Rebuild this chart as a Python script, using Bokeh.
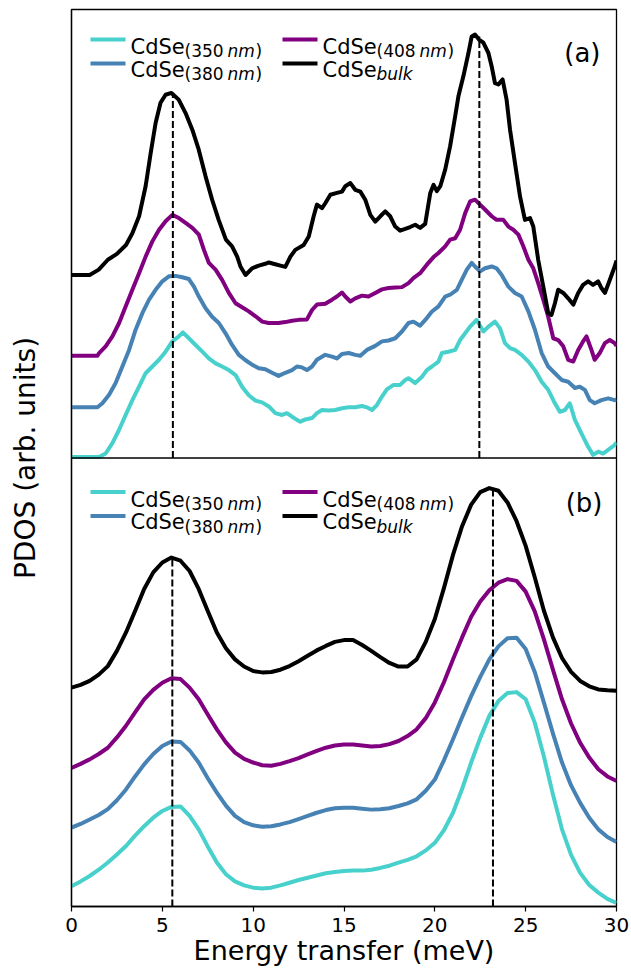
from bokeh.plotting import figure
from bokeh.models import ColumnDataSource, Span, FixedTicker, Range1d
from bokeh.embed import file_html
from bokeh.resources import INLINE
from bokeh.core.properties import value

# ---------------- data ----------------
colors = ["mediumturquoise", "steelblue", "purple", "black"]

# panel (a): measured PDOS (energy meV, intensity arb. units, as offset in the panel)
a_350 = [(0, 0.2), (1.52, 0.2), (1.88, 1.0), (2.25, 3.3), (2.62, 6.3), (2.98, 9.6), (3.35, 12.9),
         (3.72, 15.9), (4.08, 18.9), (4.45, 20.4), (4.82, 21.9), (5.18, 23.7), (5.55, 26.0),
         (5.91, 27.1), (6.13, 28.0), (6.46, 26.7), (6.83, 25.2), (7.2, 23.7), (7.56, 22.2),
         (7.93, 21.1), (8.29, 20.4), (8.66, 19.6), (9.03, 18.5), (9.39, 15.9), (9.76, 14.0),
         (10.13, 12.8), (10.49, 12.4), (10.86, 11.5), (11.22, 10.0), (11.59, 9.6), (11.86, 10.0),
         (12.14, 9.2), (12.41, 8.5), (12.6, 8.1), (12.87, 8.6), (13.24, 8.9), (13.51, 10.0),
         (13.79, 10.7), (14.15, 10.6), (14.52, 10.7), (14.89, 11.1), (15.26, 11.3), (15.62, 11.3),
         (15.99, 11.6), (16.26, 11.3), (16.54, 10.7), (16.81, 11.8), (17.09, 13.7), (17.36, 15.3),
         (17.73, 16.3), (18.09, 16.3), (18.37, 17.4), (18.55, 17.8), (18.92, 16.7), (19.29, 18.1),
         (19.56, 19.6), (19.84, 20.4), (20.2, 21.5), (20.39, 23.4), (20.75, 23.7), (21.12, 24.1),
         (21.39, 26.3), (21.67, 27.8), (21.94, 29.3), (22.3, 30.8), (22.67, 28.2), (22.95, 29.3),
         (23.31, 30.4), (23.59, 28.9), (23.86, 25.6), (24.14, 24.5), (24.41, 24.1), (24.78, 23.0),
         (25.15, 21.5), (25.51, 19.6), (25.88, 17.0), (26.24, 15.2), (26.61, 12.2), (26.88, 10.3),
         (27.16, 10.7), (27.43, 12.2), (27.71, 8.5), (28.07, 5.5), (28.44, 2.5), (28.71, 0.7),
         (28.99, 1.4), (29.26, 1.0), (29.54, 1.8), (29.9, 2.9), (30, 3.5)]

a_380 = [(0, 11.3), (1.43, 11.3), (1.7, 12.2), (2.07, 14.1), (2.43, 16.7), (2.8, 20.4), (3.17, 24.1),
         (3.53, 28.6), (3.9, 32.3), (4.27, 35.3), (4.63, 37.5), (5.0, 39.4), (5.36, 40.5),
         (5.73, 40.6), (6.1, 40.3), (6.46, 39.9), (6.74, 38.2), (7.01, 36.0), (7.38, 33.4),
         (7.74, 31.5), (8.11, 30.1), (8.48, 27.8), (8.84, 25.2), (9.21, 23.0), (9.58, 21.8),
         (9.94, 20.8), (10.31, 20.0), (10.67, 19.8), (11.04, 19.0), (11.4, 18.3), (11.77, 19.0),
         (12.14, 19.6), (12.41, 20.4), (12.69, 20.2), (12.96, 19.6), (13.24, 20.4), (13.51, 21.9),
         (13.97, 23.0), (14.34, 22.6), (14.61, 22.2), (14.89, 23.2), (15.26, 23.4), (15.62, 23.0),
         (15.9, 22.8), (16.26, 24.1), (16.72, 25.0), (17.09, 26.0), (17.45, 26.2), (17.82, 26.7),
         (18.19, 28.2), (18.55, 30.1), (18.82, 30.4), (19.19, 29.5), (19.56, 31.2), (19.83, 32.6),
         (20.2, 33.8), (20.57, 36.0), (20.84, 36.4), (21.21, 37.5), (21.48, 39.7), (21.76, 42.0),
         (22.03, 43.5), (22.21, 42.7), (22.49, 41.6), (22.76, 42.3), (23.13, 42.7), (23.4, 42.3),
         (23.68, 40.8), (24.05, 38.2), (24.41, 36.8), (24.78, 36.0), (25.15, 32.7), (25.51, 28.6),
         (25.88, 23.4), (26.24, 20.4), (26.61, 18.9), (26.98, 17.4), (27.34, 17.0), (27.71, 15.6),
         (27.98, 15.9), (28.26, 15.2), (28.53, 12.9), (28.8, 12.2), (29.17, 12.9), (29.54, 13.3),
         (29.9, 12.9), (30, 13.0)]

a_408 = [(0, 22.8), (1.43, 22.8), (1.52, 23.4), (1.88, 24.9), (2.25, 27.1), (2.62, 30.1), (2.98, 33.8),
         (3.35, 37.5), (3.72, 41.2), (4.08, 44.9), (4.45, 48.3), (4.82, 50.9), (5.18, 52.8),
         (5.55, 54.2), (5.91, 53.5), (6.28, 52.4), (6.65, 51.3), (7.01, 49.8), (7.29, 46.4),
         (7.56, 43.5), (7.93, 42.0), (8.29, 39.7), (8.66, 36.8), (9.03, 34.5), (9.39, 33.6),
         (9.76, 32.7), (10.13, 31.6), (10.5, 30.4), (10.85, 30.1), (11.4, 30.1), (11.77, 30.3),
         (12.14, 30.6), (12.51, 30.8), (12.96, 30.9), (13.24, 33.0), (13.51, 34.2), (13.97, 34.4),
         (14.34, 35.3), (14.61, 36.0), (14.89, 36.9), (15.07, 36.0), (15.35, 34.9), (15.62, 35.6),
         (15.99, 36.2), (16.35, 36.0), (16.72, 36.8), (17.09, 37.6), (17.45, 37.9), (17.82, 38.0),
         (18.19, 38.1), (18.55, 39.0), (18.82, 40.1), (19.19, 41.2), (19.56, 43.1), (19.93, 44.8),
         (20.2, 45.7), (20.57, 47.2), (20.84, 48.7), (21.12, 49.0), (21.39, 50.9), (21.67, 54.6),
         (21.94, 57.2), (22.21, 57.6), (22.49, 56.5), (22.76, 55.4), (23.13, 53.9), (23.4, 53.1),
         (23.77, 53.1), (24.05, 51.6), (24.32, 50.9), (24.6, 49.8), (24.87, 47.2), (25.15, 44.2),
         (25.42, 42.3), (25.69, 39.0), (25.97, 35.3), (26.24, 31.5), (26.52, 26.7), (26.79, 26.3),
         (27.07, 24.9), (27.34, 21.9), (27.62, 21.5), (27.89, 24.1), (28.16, 26.0), (28.35, 27.1),
         (28.62, 24.1), (28.8, 21.9), (29.08, 23.4), (29.36, 25.6), (29.63, 26.3), (29.9, 25.6),
         (30, 25.0)]

a_bulk = [(0, 40.8), (1.0, 40.8), (1.5, 42.0), (2.0, 44.2), (2.5, 45.5), (3.0, 47.5), (3.35, 50.1),
          (3.72, 53.9), (4.08, 60.6), (4.36, 68.0), (4.63, 74.7), (4.9, 79.2), (5.18, 81.0),
          (5.5, 81.4), (5.9, 79.9), (6.28, 76.9), (6.65, 73.2), (7.0, 68.8), (7.38, 62.8),
          (7.74, 57.6), (8.1, 53.1), (8.5, 48.7), (8.84, 47.2), (9.12, 44.9), (9.3, 42.7),
          (9.58, 40.8), (9.94, 42.3), (10.31, 42.9), (10.67, 43.3), (10.86, 43.6), (11.22, 43.2),
          (11.5, 42.9), (11.77, 42.6), (12.05, 44.9), (12.32, 46.4), (12.78, 47.5), (13.06, 49.4),
          (13.33, 53.9), (13.51, 56.5), (13.79, 55.7), (13.97, 56.8), (14.25, 58.7), (14.61, 59.1),
          (14.89, 59.4), (15.07, 60.6), (15.35, 61.3), (15.62, 59.8), (15.9, 59.4), (16.17, 57.6),
          (16.45, 54.2), (16.72, 52.7), (17.0, 53.9), (17.27, 55.0), (17.54, 53.9), (17.82, 51.6),
          (18.09, 50.7), (18.37, 51.1), (18.64, 51.5), (18.92, 52.0), (19.19, 51.3), (19.47, 52.2),
          (19.75, 59.1), (19.93, 60.9), (20.11, 59.5), (20.3, 60.6), (20.57, 64.3), (20.84, 69.5),
          (21.12, 76.2), (21.3, 80.7), (21.57, 85.1), (21.85, 90.3), (22.03, 94.0), (22.21, 94.4),
          (22.43, 93.3), (22.67, 92.6), (22.95, 90.3), (23.13, 87.3), (23.31, 83.6), (23.5, 83.3),
          (23.73, 84.4), (23.95, 79.9), (24.14, 73.2), (24.41, 65.8), (24.69, 58.3), (24.96, 53.1),
          (25.24, 53.5), (25.42, 51.6), (25.69, 44.2), (25.97, 38.2), (26.24, 32.3), (26.42, 31.9),
          (26.61, 34.5), (26.79, 37.5), (27.07, 36.8), (27.34, 35.6), (27.62, 34.2), (27.89, 36.8),
          (28.16, 38.6), (28.44, 39.4), (28.71, 38.6), (28.99, 39.4), (29.17, 37.9), (29.36, 36.8),
          (29.63, 39.7), (29.9, 42.7), (30, 44.0)]

# panel (b): calculated PDOS on a common 0.5 meV energy grid
x_b = [i * 0.5 for i in range(61)]
b_350 = [4.5, 5.6, 6.8, 8.2, 9.8, 11.6, 13.5, 15.8, 17.9, 19.8, 21.3, 22.2, 22.3, 20.2, 17.2, 13.4,
         9.8, 7.2, 5.6, 4.7, 4.2, 4.0, 4.2, 4.7, 5.3, 5.9, 6.4, 6.9, 7.4, 7.7, 7.9, 8.0, 8.0, 8.2,
         8.6, 9.1, 9.8, 10.4, 11.2, 12.5, 14.2, 17.0, 20.9, 26.2, 32.1, 37.6, 42.5, 45.8, 47.6,
         47.8, 46.2, 41.0, 33.5, 25.0, 17.2, 11.5, 7.5, 4.8, 3.1, 1.7, 0.8]
b_380 = [17.6, 18.4, 19.4, 20.4, 21.7, 23.7, 26.1, 29.0, 31.7, 34.0, 35.8, 36.8, 36.7, 34.8, 32.1,
         28.6, 25.4, 22.5, 20.2, 18.8, 18.1, 17.8, 17.9, 18.3, 18.8, 19.5, 20.2, 20.9, 21.5, 21.9,
         22.0, 22.0, 21.8, 21.6, 21.7, 21.9, 22.4, 23.0, 23.9, 25.8, 28.3, 32.6, 37.3, 42.2, 46.9,
         51.2, 55.1, 58.0, 59.8, 59.9, 57.4, 52.3, 45.5, 38.6, 32.1, 27.0, 23.1, 19.8, 17.2, 15.5,
         14.4]
b_408 = [30.9, 31.8, 32.8, 34.0, 35.4, 37.7, 40.3, 43.3, 46.2, 48.3, 49.9, 50.9, 50.7, 48.8, 46.2,
         42.8, 39.5, 36.6, 34.3, 32.9, 32.1, 31.5, 31.4, 31.8, 32.4, 33.1, 33.9, 34.7, 35.4, 35.9,
         36.1, 36.1, 35.9, 35.7, 35.8, 36.2, 36.9, 38.0, 39.5, 42.0, 45.5, 50.0, 55.1, 60.0, 64.6,
         68.0, 70.5, 72.2, 73.0, 72.6, 70.2, 65.8, 59.6, 52.8, 46.2, 40.8, 36.5, 33.2, 30.6, 29.0,
         28.0]
b_bulk = [48.8, 49.4, 50.3, 51.7, 53.6, 57.0, 61.1, 65.9, 70.8, 74.5, 76.7, 77.8, 77.1, 74.8, 70.8,
          65.9, 61.1, 57.6, 55.1, 53.5, 52.5, 52.2, 52.3, 52.8, 53.6, 54.7, 55.9, 57.1, 58.1, 59.0,
          59.4, 59.4, 58.3, 57.0, 55.6, 54.3, 53.5, 53.5, 55.1, 59.0, 64.1, 71.0, 78.4, 84.8, 89.6,
          92.4, 93.3, 92.7, 90.1, 85.9, 80.4, 73.4, 66.0, 60.0, 55.4, 52.3, 50.3, 49.1, 48.4, 48.2,
          48.1]

# peak markers (dashed lines): energy and height of the bulk peak
peaks_a_x = [5.58, 22.45]
peaks_a_top = [81.0, 94.0]
peaks_b_x = [5.55, 23.2]
peaks_b_top = [77.8, 93.4]

x_ticks = [0, 5, 10, 15, 20, 25, 30]
legend_subs = ["(350", "(380", "(408", "bulk"]

# ---------------- figure ----------------
FONT = value("DejaVu Sans")
W, H = 630, 972
ML, MR, MT, MB = 71, 14, 9, 66
FW, FH = W - ML - MR, H - MT - MB
PANEL_A_BASE = 100.0
p = figure(width=W, height=H, x_range=Range1d(0, 30), y_range=Range1d(0, 200),
           output_backend="svg", toolbar_location=None,
           min_border_left=ML, min_border_right=MR, min_border_top=MT, min_border_bottom=MB)
p.grid.visible = False
p.outline_line_color = "black"
p.outline_line_width = 1.3
p.outline_line_alpha = 1.0
p.background_fill_color = "white"
p.border_fill_color = "white"

# x axis
xa = p.xaxis[0]
xa.ticker = FixedTicker(ticks=x_ticks)
xa.axis_line_color = "black"
xa.axis_line_width = 1.3
xa.major_tick_line_color = "black"
xa.major_tick_line_width = 1.2
xa.major_tick_out = 5
xa.major_tick_in = 0
xa.minor_tick_out = 0
xa.minor_tick_in = 0
xa.major_label_standoff = 6
xa.major_label_text_font = "DejaVu Sans"
xa.major_label_text_font_size = "20px"
xa.major_label_text_color = "black"
xa.axis_label = "Energy transfer (meV)"
xa.axis_label_text_font = "DejaVu Sans"
xa.axis_label_text_font_size = "27px"
xa.axis_label_text_font_style = "normal"
xa.axis_label_text_color = "black"
xa.axis_label_standoff = 0

# y axis (no ticks)
ya = p.yaxis[0]
ya.ticker = FixedTicker(ticks=[])
ya.axis_line_color = "black"
ya.axis_line_width = 1.3
ya.major_tick_out = 0
ya.major_tick_in = 0
ya.minor_tick_out = 0
ya.minor_tick_in = 0
ya.major_label_text_font_size = "0px"
ya.axis_label = "PDOS (arb. units)"
ya.axis_label_text_font = "DejaVu Sans"
ya.axis_label_text_font_size = "28px"
ya.axis_label_text_font_style = "normal"
ya.axis_label_text_color = "black"
ya.axis_label_standoff = 30

# panel separator
p.add_layout(Span(location=PANEL_A_BASE, dimension="width", line_color="black", line_width=1.3))

LW = 4
# panel (a)
for series, col in zip([a_350, a_380, a_408, a_bulk], colors):
    xs = [e for e, v in series]
    ys = [v + PANEL_A_BASE for e, v in series]
    p.line(xs, ys, line_color=col, line_width=LW, line_join="round")
# panel (b)
for series, col in zip([b_350, b_380, b_408, b_bulk], colors):
    p.line(x_b, series, line_color=col, line_width=LW, line_join="round")

# dashed peak markers
p.segment(x0=peaks_a_x, y0=[PANEL_A_BASE] * len(peaks_a_x), x1=peaks_a_x,
          y1=[t + PANEL_A_BASE for t in peaks_a_top],
          line_color="black", line_width=2, line_dash="7 3")
p.segment(x0=peaks_b_x, y0=[0] * len(peaks_b_x), x1=peaks_b_x, y1=peaks_b_top,
          line_color="black", line_width=2, line_dash="7 3")


# ---------------- legends and panel labels (layout in px from panel top-left) ----------------
def lx(px):
    return px * 30.0 / FW


def ly(panel_top, px):
    return panel_top - px * 200.0 / FH


def add_legend(panel_top, shift):
    rows = [30, 54]
    cols = [(19, 54), (211, 246)]
    order = [(0, 0), (0, 1), (1, 0), (1, 1)]  # (col,row) for each series
    for (c, r), col in zip(order, colors):
        x0, x1 = cols[c]
        p.segment(x0=[lx(x0)], y0=[ly(panel_top, rows[r] + shift)], x1=[lx(x1)],
                  y1=[ly(panel_top, rows[r] + shift)], line_color=col, line_width=4)
    main_x = [59, 59, 251, 251]
    main_b = [37.7, 60.3, 37.7, 60.3]
    src = ColumnDataSource(dict(x=[lx(v) for v in main_x],
                                y=[ly(panel_top, b + shift) for b in main_b],
                                t=["CdSe"] * 4))
    p.text(x="x", y="y", text="t", source=src, text_font=FONT, text_font_size=value("21px"),
           text_color="black", text_align="left", text_baseline="alphabetic")
    sub_x = [113, 113, 305, 184, 184, 376]
    sub_b = [41.5, 64.5, 41.5, 41.5, 64.5, 41.5]
    sub_t = [legend_subs[0], legend_subs[1], legend_subs[2], ")", ")", ")"]
    src2 = ColumnDataSource(dict(x=[lx(v) for v in sub_x],
                                 y=[ly(panel_top, b + shift) for b in sub_b], t=sub_t))
    p.text(x="x", y="y", text="t", source=src2, text_font=FONT, text_font_size=value("17px"),
           text_color="black", text_align="left", text_baseline="alphabetic")
    it_x = [156, 156, 348, 305]
    it_b = [41.5, 64.5, 41.5, 64.5]
    it_t = ["nm", "nm", "nm", legend_subs[3]]
    src3 = ColumnDataSource(dict(x=[lx(v) for v in it_x],
                                 y=[ly(panel_top, b + shift) for b in it_b], t=it_t))
    p.text(x="x", y="y", text="t", source=src3, text_font=FONT, text_font_size=value("17px"),
           text_font_style="italic", text_color="black", text_align="left",
           text_baseline="alphabetic")


add_legend(200.0, 0.0)
add_legend(PANEL_A_BASE, 4.0)

lab = ColumnDataSource(dict(x=[lx(529), lx(531)], y=[ly(200.0, 43.5), ly(PANEL_A_BASE, 44.7)],
                            t=["(a)", "(b)"]))
p.text(x="x", y="y", text="t", source=lab, text_font=FONT, text_font_size=value("26px"),
       text_color="black", text_align="right", text_baseline="alphabetic")

open("out.html", "w").write(file_html(p, INLINE))
